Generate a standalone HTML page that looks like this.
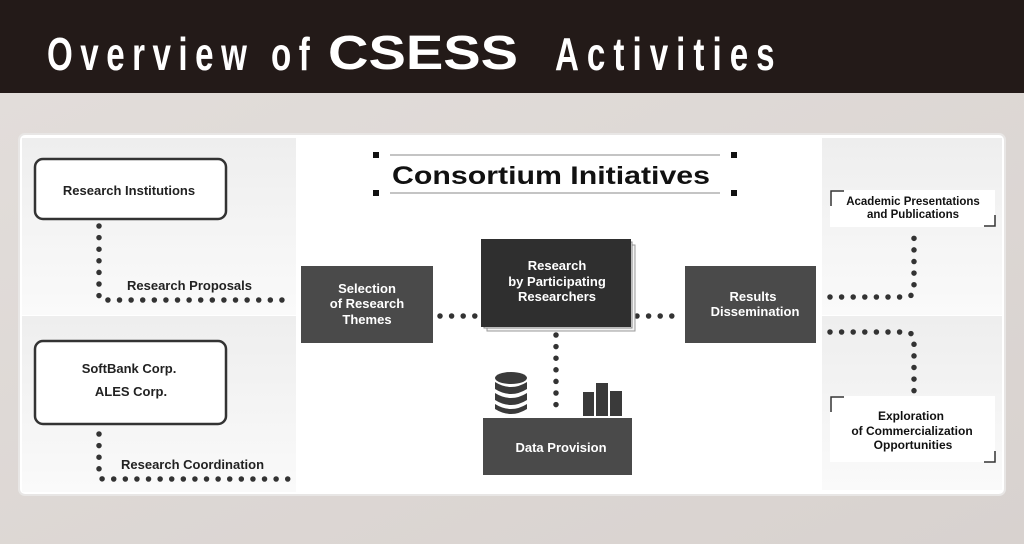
<!DOCTYPE html>
<html><head><meta charset="utf-8"><style>
html,body{margin:0;padding:0;width:1024px;height:544px;overflow:hidden;background:#ddd8d5}
svg{display:block}
text{font-family:"Liberation Sans",sans-serif;font-weight:bold}
</style></head><body>
<svg width="1024" height="544" viewBox="0 0 1024 544" xmlns="http://www.w3.org/2000/svg">
<defs>
<linearGradient id="bg" x1="0" y1="0" x2="1" y2="1"><stop offset="0" stop-color="#e2ddda"/><stop offset="1" stop-color="#d8d2cf"/></linearGradient>
<linearGradient id="gp" x1="0" y1="0" x2="0" y2="1"><stop offset="0" stop-color="#eeeeee"/><stop offset="1" stop-color="#fafafa"/></linearGradient>
</defs>
<rect x="0" y="93" width="1024" height="451" fill="url(#bg)"/>
<rect x="0" y="0" width="1024" height="93" fill="#231a18"/>
<g transform="scale(0.72,1)">
<text x="65.3" y="70" font-size="46" fill="#fff" textLength="365" lengthAdjust="spacing">Overview of</text>
<text x="770.8" y="70" font-size="46" fill="#fff" textLength="305" lengthAdjust="spacing">Activities</text>
</g>
<text x="328" y="69" font-size="48" fill="#fff" textLength="190" lengthAdjust="spacingAndGlyphs">CSESS</text>

<rect x="19" y="134" width="986" height="361" rx="6" fill="#fff" stroke="#e8e6e5" stroke-width="2"/>
<rect x="22" y="138" width="274" height="177" fill="url(#gp)"/>
<rect x="22" y="316" width="274" height="176" fill="url(#gp)"/>
<rect x="822" y="138" width="180" height="177" fill="url(#gp)"/>
<rect x="822" y="316" width="180" height="174" fill="url(#gp)"/>

<rect x="35" y="159" width="191" height="60" rx="8" fill="#fff" stroke="#333" stroke-width="2.5"/>
<text x="129" y="195" font-size="13" text-anchor="middle" fill="#222">Research Institutions</text>
<rect x="35" y="341" width="191" height="83" rx="8" fill="#fff" stroke="#333" stroke-width="2.5"/>
<text x="129" y="373" font-size="13" text-anchor="middle" fill="#222">SoftBank Corp.</text>
<text x="131" y="396" font-size="13" text-anchor="middle" fill="#222">ALES Corp.</text>

<g fill="none" stroke="#333" stroke-width="5.5" stroke-linecap="round" stroke-dasharray="0 11.6">
<path d="M99 226 V296 Q99 300 104 300 H293"/>
<path d="M99 434 V475 Q99 479 104 479 H293"/>
<path d="M440 316 H478"/>
<path d="M637 316 H683"/>
<path d="M556 335 V415"/>
<path d="M830 297 H905 Q914 297 914 288 V232"/>
<path d="M830 332 H905 Q914 332 914 341 V394"/>
</g>
<text x="127" y="290" font-size="13" fill="#222">Research Proposals</text>
<text x="121" y="469" font-size="13" fill="#222">Research Coordination</text>

<rect x="301" y="266" width="132" height="77" fill="#4a4a4a"/>
<text font-size="13" fill="#fff" text-anchor="middle"><tspan x="367" y="293">Selection</tspan><tspan x="367" y="308">of Research</tspan><tspan x="367" y="324">Themes</tspan></text>

<rect x="487" y="245" width="148" height="86" fill="#f4f4f4" stroke="#999" stroke-width="1"/>
<rect x="484" y="242" width="148" height="86" fill="#eee" stroke="#888" stroke-width="1"/>
<rect x="481" y="239" width="150" height="88" fill="#2f2f2f"/>
<text font-size="13" fill="#fff" text-anchor="middle"><tspan x="557" y="270">Research</tspan><tspan x="557" y="286">by Participating</tspan><tspan x="557" y="301">Researchers</tspan></text>

<rect x="685" y="266" width="131" height="77" fill="#4a4a4a"/>
<text font-size="13" fill="#fff" text-anchor="middle"><tspan x="753" y="301">Results</tspan><tspan x="755" y="316">Dissemination</tspan></text>

<rect x="483" y="418" width="149" height="57" fill="#4a4a4a"/>
<text x="561" y="452" font-size="13" fill="#fff" text-anchor="middle">Data Provision</text>

<g fill="#3a3a3a">
<ellipse cx="511" cy="378" rx="16" ry="6"/>
<path d="M495 382 q16 10 32 0 v7 q-16 10 -32 0z"/>
<path d="M495 393 q16 10 32 0 v7 q-16 10 -32 0z"/>
<path d="M495 404 q16 10 32 0 v5 q-16 10 -32 0z"/>
</g>
<g fill="#3a3a3a">
<rect x="583" y="392" width="11" height="24"/>
<rect x="596" y="383" width="12" height="33"/>
<rect x="610" y="391" width="12" height="25"/>
</g>

<g fill="#111"><rect x="373" y="152" width="6" height="6"/><rect x="731" y="152" width="6" height="6"/><rect x="373" y="190" width="6" height="6"/><rect x="731" y="190" width="6" height="6"/></g>
<line x1="390" y1="155" x2="720" y2="155" stroke="#888" stroke-width="1"/>
<line x1="390" y1="193" x2="720" y2="193" stroke="#888" stroke-width="1"/>
<text x="551" y="184" font-size="25" fill="#111" text-anchor="middle" textLength="318" lengthAdjust="spacingAndGlyphs">Consortium Initiatives</text>

<rect x="830" y="190" width="165" height="37" fill="#fff"/>
<path d="M831 206 V191 H844" fill="none" stroke="#333" stroke-width="1.5"/>
<path d="M995 215 V226 H984" fill="none" stroke="#333" stroke-width="1.5"/>
<text font-size="11.5" fill="#111" text-anchor="middle"><tspan x="913" y="205">Academic Presentations</tspan><tspan x="913" y="218">and Publications</tspan></text>

<rect x="830" y="396" width="165" height="66" fill="#fff"/>
<path d="M831 412 V397 H844" fill="none" stroke="#333" stroke-width="1.5"/>
<path d="M995 451 V462 H984" fill="none" stroke="#333" stroke-width="1.5"/>
<text font-size="12" fill="#111" text-anchor="middle"><tspan x="911" y="420">Exploration</tspan><tspan x="912" y="435">of Commercialization</tspan><tspan x="913" y="449">Opportunities</tspan></text>
</svg>
</body></html>
